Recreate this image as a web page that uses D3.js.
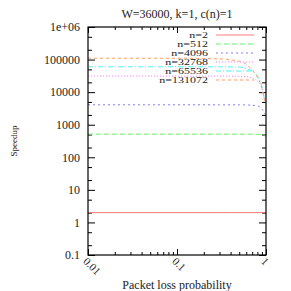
<!DOCTYPE html>
<html><head><meta charset="utf-8">
<script src="https://cdn.jsdelivr.net/npm/d3@7"></script>
<style>
html,body{margin:0;padding:0;background:#fff;}
svg{display:block;font-family:"Liberation Serif","DejaVu Serif",serif;}
</style></head>
<body><div id="chart"></div>
<script>
const title = "W=36000, k=1, c(n)=1";
const xLabel = "Packet loss probability";
const yLabel = "Speedup";
const pValues = [0.01, 0.1, 0.3, 0.4, 0.5, 0.6, 0.7, 0.8, 0.9, 0.97];
const seriesNames = ["n=2", "n=512", "n=4096", "n=32768", "n=65536", "n=131072"];
const sN2      = [2, 2, 2, 2, 2, 2, 2, 2, 2, 2];
const sN512    = [512, 512, 512, 512, 512, 511, 510, 505, 495, 450];
const sN4096   = [4090, 4090, 4085, 4080, 4070, 4040, 3950, 3800, 3000, 2100];
const sN32768  = [31000, 31000, 31000, 30800, 30500, 30000, 27000, 22000, 13000, 5600];
const sN65536  = [60000, 60000, 59800, 59500, 59000, 52000, 44000, 31000, 15000, 5200];
const sN131072 = [110000, 110000, 105000, 98000, 89000, 72000, 47000, 29000, 13000, 4900];
const seriesValues = [sN2, sN512, sN4096, sN32768, sN65536, sN131072];
const xMajorTicks = [0.01, 0.1, 1];
const xTickLabels = ["0.01", "0.1", "1"];
const yMajorTicks = [0.1, 1, 10, 100, 1000, 10000, 100000, 1000000];
const yTickLabels = ["0.1", "1", "10", "100", "1000", "10000", "100000", "1e+06"];

const colors = ["#ff7a7a", "#6ef06e", "#8080ff", "#ff80ff", "#50f0f0", "#ff9a60"];
const dashes = ["none", "5,3", "2,3", "1,2", "5,2,1,2", "3,3"];

const W = 291, H = 291;
const m = {left: 88, right: 25, top: 27, bottom: 36};
const iw = W - m.left - m.right, ih = H - m.top - m.bottom;

const svg = d3.select("#chart").append("svg").attr("width", W).attr("height", H);
const g = svg.append("g").attr("transform", `translate(${m.left},${m.top})`);

const x = d3.scaleLog().domain([0.01, 1]).range([0, iw]);
const y = d3.scaleLog().domain([0.1, 1e6]).range([ih, 0]);

const xMinor = [];
[0.01, 0.1].forEach(d => { for (let k = 2; k <= 9; k++) xMinor.push(+(d * k).toPrecision(3)); });
const yMinor = [];
yMajorTicks.slice(0, -1).forEach(d => { [2, 5].forEach(k => yMinor.push(d * k)); });

function styleAxis(sel) {
  sel.select(".domain").remove();
  sel.selectAll("line").attr("stroke", "#000").attr("stroke-width", 1);
  sel.selectAll("text").attr("fill", "#222").style("font-size", "12px").style("font-family", "Liberation Serif, serif");
}

// left
g.append("g").call(d3.axisLeft(y).tickValues(yMajorTicks).tickSize(-7).tickPadding(8)
  .tickFormat((d, i) => yTickLabels[i])).call(styleAxis);
g.append("g").call(d3.axisLeft(y).tickValues(yMinor).tickSize(-4).tickFormat("")).call(styleAxis);
// right
g.append("g").attr("transform", `translate(${iw},0)`)
  .call(d3.axisRight(y).tickValues(yMajorTicks).tickSize(-7).tickFormat("")).call(styleAxis);
g.append("g").attr("transform", `translate(${iw},0)`)
  .call(d3.axisRight(y).tickValues(yMinor).tickSize(-4).tickFormat("")).call(styleAxis);
// bottom
const xb = g.append("g").attr("transform", `translate(0,${ih})`)
  .call(d3.axisBottom(x).tickValues(xMajorTicks).tickSize(-6).tickPadding(6)
  .tickFormat((d, i) => xTickLabels[i])).call(styleAxis);
xb.selectAll("text").attr("text-anchor", "start").attr("dy", "0.35em")
  .attr("transform", "translate(1,0) rotate(45)").style("font-size", "11px");
g.append("g").attr("transform", `translate(0,${ih})`)
  .call(d3.axisBottom(x).tickValues(xMinor).tickSize(-3).tickFormat("")).call(styleAxis);
// top
g.append("g").call(d3.axisTop(x).tickValues(xMajorTicks).tickSize(-6).tickFormat("")).call(styleAxis);
g.append("g").call(d3.axisTop(x).tickValues(xMinor).tickSize(-3).tickFormat("")).call(styleAxis);

// series
const line = d3.line().x(d => x(d[0])).y(d => y(d[1])).curve(d3.curveMonotoneX);
seriesValues.forEach((vals, i) => {
  g.append("path").datum(pValues.map((p, j) => [p, vals[j]]))
    .attr("d", line).attr("fill", "none").attr("stroke", colors[i])
    .attr("stroke-width", 1).attr("stroke-dasharray", dashes[i]);
});

// legend
const lg = g.append("g");
seriesNames.forEach((name, i) => {
  const yy = 8 + i * 9;
  lg.append("text").attr("transform", `translate(120,${yy + 3}) scale(1.5,1)`)
    .attr("text-anchor", "end").attr("fill", "#222").style("font-size", "8px").text(name);
  lg.append("line").attr("x1", 128).attr("x2", 166).attr("y1", yy).attr("y2", yy)
    .attr("stroke", colors[i]).attr("stroke-width", 1).attr("stroke-dasharray", dashes[i]);
});

// frame
g.append("rect").attr("width", iw).attr("height", ih).attr("fill", "none")
  .attr("stroke", "#000").attr("stroke-width", 1.2);

// labels
svg.append("text").attr("x", m.left + iw / 2).attr("y", 18).attr("text-anchor", "middle")
  .attr("fill", "#222").style("font-size", "12px").text(title);
svg.append("text").attr("x", m.left + iw / 2).attr("y", 289).attr("text-anchor", "middle")
  .attr("fill", "#222").style("font-size", "12px").text(xLabel);
svg.append("text").attr("transform", `translate(17,${m.top + ih / 2}) rotate(-90)`)
  .attr("text-anchor", "middle").attr("fill", "#222").style("font-size", "9px").text(yLabel);
</script></body></html>
